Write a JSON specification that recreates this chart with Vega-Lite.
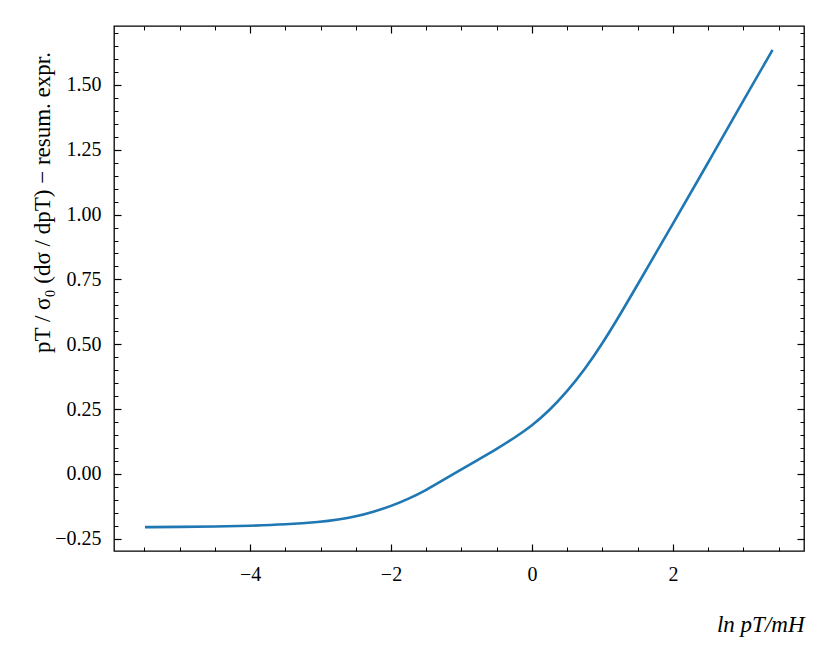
{
  "$schema": "https://vega.github.io/schema/vega-lite/v6.json",
  "width": 690,
  "height": 525,
  "autosize": "none",
  "padding": {"left": 114, "top": 26, "right": 26, "bottom": 113},
  "background": "white",
  "config": {
    "view": {"stroke": "black", "strokeWidth": 1.3},
    "axis": {
      "domain": false,
      "grid": false,
      "tickColor": "black",
      "labelColor": "black",
      "labelFont": "Liberation Serif",
      "labelFontSize": 20,
      "titleFont": "Liberation Serif",
      "titleFontWeight": "normal",
      "titleColor": "black"
    }
  },
  "data": {"values": [
    {"x": -5.49, "y": -0.205},
    {"x": -5.0, "y": -0.204},
    {"x": -4.5, "y": -0.203},
    {"x": -4.0, "y": -0.200},
    {"x": -3.5, "y": -0.195},
    {"x": -3.0, "y": -0.185},
    {"x": -2.75, "y": -0.176},
    {"x": -2.5, "y": -0.164},
    {"x": -2.25, "y": -0.146},
    {"x": -2.0, "y": -0.124},
    {"x": -1.75, "y": -0.096},
    {"x": -1.5, "y": -0.062},
    {"x": -1.25, "y": -0.022},
    {"x": -1.0, "y": 0.018},
    {"x": -0.75, "y": 0.057},
    {"x": -0.5, "y": 0.096},
    {"x": -0.25, "y": 0.139},
    {"x": 0.0, "y": 0.186},
    {"x": 0.25, "y": 0.245},
    {"x": 0.5, "y": 0.318},
    {"x": 0.75, "y": 0.403},
    {"x": 1.0, "y": 0.503},
    {"x": 1.25, "y": 0.614},
    {"x": 1.5, "y": 0.73},
    {"x": 1.75, "y": 0.848},
    {"x": 2.0, "y": 0.965},
    {"x": 2.5, "y": 1.20},
    {"x": 3.0, "y": 1.44},
    {"x": 3.414, "y": 1.635}
  ]},
  "resolve": {"axis": {"x": "independent", "y": "independent"}},
  "layer": [
    {
      "mark": {"type": "line", "color": "#1f77b4", "strokeWidth": 2.6, "interpolate": "basis"},
      "encoding": {
        "x": {"field": "x", "type": "quantitative",
          "scale": {"domain": [-5.93, 3.86], "nice": false, "zero": false},
          "axis": {"orient": "bottom", "values": [-4, -2, 0, 2], "format": "d",
            "labelExpr": "replace(datum.label, '-', '\u2212')",
            "tickSize": -7, "tickWidth": 1.2, "labelPadding": 20,
            "title": "ln pT/mH", "titleFontSize": 23, "titleAnchor": "end", "titleAlign": "right",
            "titleX": 690, "titleY": 62, "titleFontStyle": "italic"}},
        "y": {"field": "y", "type": "quantitative",
          "scale": {"domain": [-0.297, 1.727], "nice": false, "zero": false},
          "axis": {"orient": "left", "values": [-0.25, 0, 0.25, 0.5, 0.75, 1, 1.25, 1.5], "format": ".2f",
            "labelExpr": "replace(datum.label, '-', '\u2212')",
            "tickSize": -7, "tickWidth": 1.2, "labelPadding": 20,
            "title": "pT / σ₀ (dσ / dpT) − resum. expr.", "titleFontSize": 23,
            "titleAngle": -90, "titleAlign": "center", "titleBaseline": "middle",
            "titleX": -72, "titleY": 176}}
      }
    },
    {
      "mark": {"type": "line", "opacity": 0},
      "encoding": {
        "x": {"field": "x", "type": "quantitative",
          "axis": {"orient": "top", "values": [-4, -2, 0, 2], "labels": false, "title": null,
            "tickSize": -7, "tickWidth": 1.2}},
        "y": {"field": "y", "type": "quantitative",
          "axis": {"orient": "right", "values": [-0.25, 0, 0.25, 0.5, 0.75, 1, 1.25, 1.5], "labels": false, "title": null,
            "tickSize": -7, "tickWidth": 1.2}}
      }
    },
    {
      "mark": {"type": "line", "opacity": 0},
      "encoding": {
        "x": {"field": "x", "type": "quantitative",
          "axis": {"orient": "bottom", "values": [-5.5, -5, -4.5, -3.5, -3, -2.5, -1.5, -1, -0.5, 0.5, 1, 1.5, 2.5, 3, 3.5], "labels": false, "title": null,
            "tickSize": -4, "tickWidth": 1}},
        "y": {"field": "y", "type": "quantitative",
          "axis": {"orient": "left", "values": [-0.2, -0.15, -0.1, -0.05, 0.05, 0.1, 0.15, 0.2, 0.3, 0.35, 0.4, 0.45, 0.55, 0.6, 0.65, 0.7, 0.8, 0.85, 0.9, 0.95, 1.05, 1.1, 1.15, 1.2, 1.3, 1.35, 1.4, 1.45, 1.55, 1.6, 1.65, 1.7], "labels": false, "title": null,
            "tickSize": -4, "tickWidth": 1}}
      }
    },
    {
      "mark": {"type": "line", "opacity": 0},
      "encoding": {
        "x": {"field": "x", "type": "quantitative",
          "axis": {"orient": "top", "values": [-5.5, -5, -4.5, -3.5, -3, -2.5, -1.5, -1, -0.5, 0.5, 1, 1.5, 2.5, 3, 3.5], "labels": false, "title": null,
            "tickSize": -4, "tickWidth": 1}},
        "y": {"field": "y", "type": "quantitative",
          "axis": {"orient": "right", "values": [-0.2, -0.15, -0.1, -0.05, 0.05, 0.1, 0.15, 0.2, 0.3, 0.35, 0.4, 0.45, 0.55, 0.6, 0.65, 0.7, 0.8, 0.85, 0.9, 0.95, 1.05, 1.1, 1.15, 1.2, 1.3, 1.35, 1.4, 1.45, 1.55, 1.6, 1.65, 1.7], "labels": false, "title": null,
            "tickSize": -4, "tickWidth": 1}}
      }
    }
  ]
}
